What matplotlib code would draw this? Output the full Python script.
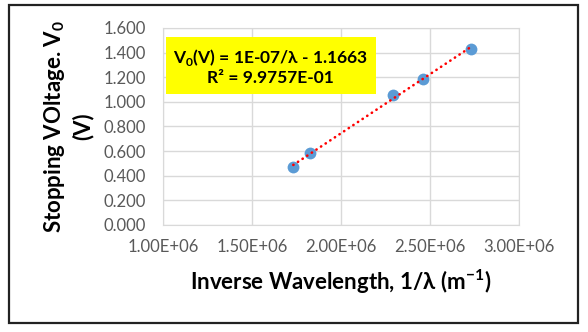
import matplotlib
matplotlib.use("Agg")
import matplotlib.pyplot as plt
from matplotlib.patches import Rectangle
import numpy as np

plt.rcParams['font.family'] = ['Lato', 'DejaVu Sans']
plt.rcParams['mathtext.fontset'] = 'custom'
plt.rcParams['mathtext.rm'] = 'Lato'
plt.rcParams['mathtext.bf'] = 'Lato:bold'

# data
inv_wavelength = [1.732e6, 1.828e6, 2.290e6, 2.462e6, 2.729e6]
stop_voltage = [0.469, 0.587, 1.053, 1.186, 1.430]
x_ticks = [1.0e6, 1.5e6, 2.0e6, 2.5e6, 3.0e6]
x_tick_labels = ["1.00E+06", "1.50E+06", "2.00E+06", "2.50E+06", "3.00E+06"]
y_ticks = [0.0, 0.2, 0.4, 0.6, 0.8, 1.0, 1.2, 1.4, 1.6]
eq_text = "V$_\\mathbf{0}$(V) = 1E-07/λ - 1.1663\nR² = 9.9757E-01"

fig = plt.figure(figsize=(5.88, 3.32), dpi=100)
ax = fig.add_axes([0.2772, 0.3223, 0.6055, 0.5934])

# outer chart border
fig.patches.append(Rectangle((9/588, 1-323/332), (578-9)/588, (323-5)/332,
                             transform=fig.transFigure, fill=False,
                             edgecolor='#222222', linewidth=1.6))

# trendline (linear fit over the data range)
k, b = np.polyfit(inv_wavelength, stop_voltage, 1)
xs = np.array([min(inv_wavelength), max(inv_wavelength)])
ax.plot(xs, k*xs+b, linestyle=(0, (0.1, 2.0)), color='#ff0000', linewidth=1.9,
        zorder=4, dash_capstyle='round')
ax.plot(inv_wavelength, stop_voltage, 'o', color='#5b9bd5', markersize=8.5,
        markeredgewidth=0, zorder=3)

ax.set_xlim(1.0e6, 3.0e6)
ax.set_ylim(0, 1.6)
ax.set_xticks(x_ticks)
ax.set_xticklabels(x_tick_labels)
ax.set_yticks(y_ticks)
ax.set_yticklabels(["%.3f" % v for v in y_ticks])
ax.tick_params(length=0, labelsize=12, colors='#595959')
ax.tick_params(axis='x', pad=10)
ax.tick_params(axis='y', pad=12)
ax.grid(True, color='#d9d9d9', linewidth=1)
ax.set_axisbelow(True)
for s in ax.spines.values():
    s.set_color('#d9d9d9')

ax.set_xlabel("Inverse Wavelength, 1/λ (m$^{\\mathbf{-1}}$)", fontsize=16,
              fontweight='bold', labelpad=9)
ax.set_ylabel("Stopping VOltage. V$_\\mathbf{0}$\n(V)", fontsize=16,
              fontweight='bold', linespacing=1.25)
ax.yaxis.set_label_coords(-0.195, 0.5)

ax.text(0.303, 0.805, eq_text, transform=ax.transAxes, ha='center', va='center',
        fontsize=12.5, fontweight='bold', linespacing=1.2,
        bbox=dict(boxstyle='square,pad=0.45', facecolor='#ffff00', edgecolor='none'))

fig.savefig("out.png", dpi=100)
